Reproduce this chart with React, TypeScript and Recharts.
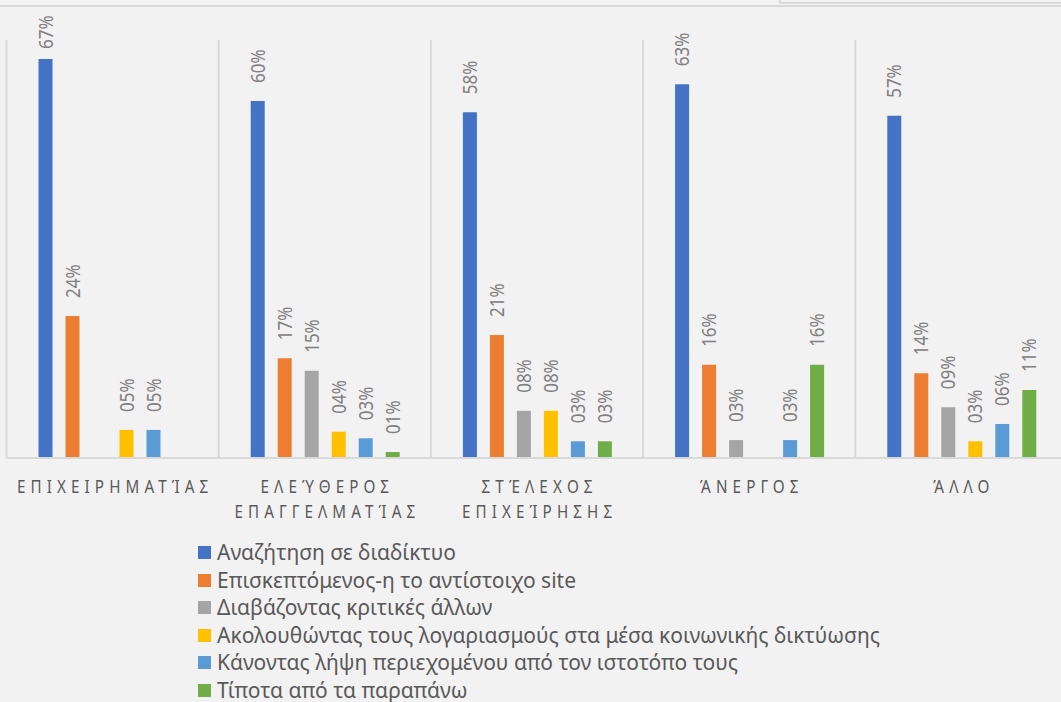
import { BarChart, Bar, XAxis, YAxis, CartesianGrid, LabelList } from "recharts";

const categories = [
  "ΕΠΙΧΕΙΡΗΜΑΤΊΑΣ",
  "ΕΛΕΎΘΕΡΟΣ ΕΠΑΓΓΕΛΜΑΤΊΑΣ",
  "ΣΤΈΛΕΧΟΣ ΕΠΙΧΕΊΡΗΣΗΣ",
  "ΆΝΕΡΓΟΣ",
  "ΆΛΛΟ",
];

const seriesNames = [
  "Αναζήτηση σε διαδίκτυο",
  "Επισκεπτόμενος-η το αντίστοιχο site",
  "Διαβάζοντας κριτικές άλλων",
  "Ακολουθώντας τους λογαριασμούς στα μέσα κοινωνικής δικτύωσης",
  "Κάνοντας λήψη περιεχομένου από τον ιστοτόπο τους",
  "Τίποτα από τα παραπάνω",
];

// percentages (labels show them rounded)
const search = [66.8, 59.8, 57.9, 62.6, 57.3];
const visiting = [23.8, 16.7, 20.6, 15.6, 14.2];
const reviews = [null, 14.6, 7.9, 3.0, 8.5];
const social = [4.7, 4.4, 7.9, null, 2.8];
const download = [4.7, 3.3, 2.8, 3.0, 5.7];
const nothing = [null, 1.0, 2.8, 15.6, 11.4];

const colors = ["#4472C4", "#ED7D31", "#A5A5A5", "#FFC000", "#5B9BD5", "#70AD47"];
const seriesValues = [search, visiting, reviews, social, download, nothing];

const data = categories.map((name, i) => {
  const row: Record<string, any> = { name };
  seriesValues.forEach((vals, s) => {
    row["s" + s] = vals[i];
  });
  return row;
});

const FONT = "'Noto Sans', 'Open Sans', sans-serif";

const fmt = (v: number) => {
  const r = Math.round(v);
  return (r < 10 ? "0" + r : String(r)) + "%";
};

// rotated value label above each bar, squeezed a bit like the original
const ValueLabel = (props: any) => {
  const { x, y, width, value } = props;
  if (value === null || value === undefined) return null;
  const cx = Number(x) + Number(width) / 2;
  const bottom = Math.max(Number(y) - 18, 49);
  return (
    <g transform={`translate(${cx + 7}, ${bottom}) rotate(-90) scale(0.85, 1)`}>
      <text x={0} y={0} fill="#808080" fontSize={20} fontFamily={FONT} textAnchor="start">
        {fmt(value)}
      </text>
    </g>
  );
};

const CategoryTick = (props: any) => {
  const { x, y, payload } = props;
  const lines = String(payload.value).split(" ");
  const spacing = 6.4;
  return (
    <g transform={`translate(${x}, ${y}) scale(0.8, 1)`}>
      {lines.map((line, i) => (
        <text
          key={i}
          x={spacing / 2}
          y={35 + i * 25}
          fill="#595959"
          fontSize={19}
          fontFamily={FONT}
          textAnchor="middle"
          style={{ letterSpacing: spacing }}
        >
          {line}
        </text>
      ))}
    </g>
  );
};

const boundaries = ({ offset }: any) =>
  categories.map((_, i) => offset.left + (i * offset.width) / categories.length).concat(offset.left + offset.width);

export default function App() {
  return (
    <div
      style={{
        position: "absolute",
        left: 0,
        top: 0,
        width: 1061,
        height: 702,
        overflow: "hidden",
        background: "#f2f2f2",
        fontFamily: FONT,
      }}
    >
      <div style={{ position: "absolute", left: 0, top: 5, width: 1061, height: 2, background: "#d9d9d9" }} />
      <div
        style={{
          position: "absolute",
          left: 779,
          top: -10,
          width: 400,
          height: 10,
          border: "2px solid #d9d9d9",
        }}
      />
      <BarChart
        width={1070}
        height={702}
        data={data}
        margin={{ top: 40, right: 2.5, left: 6.5, bottom: 184 }}
        barSize={14}
        barGap={13}
      >
        <CartesianGrid
          horizontal={false}
          stroke="#d9d9d9"
          strokeWidth={2}
          verticalCoordinatesGenerator={boundaries}
        />
        <XAxis
          dataKey="name"
          height={60}
          tickLine={false}
          tickSize={0}
          tickMargin={0}
          axisLine={{ stroke: "#d9d9d9", strokeWidth: 2 }}
          tick={<CategoryTick />}
          interval={0}
        />
        <YAxis hide domain={[0, 70]} />
        {seriesNames.map((name, s) => (
          <Bar key={s} dataKey={"s" + s} name={name} fill={colors[s]} isAnimationActive={false}>
            <LabelList dataKey={"s" + s} content={<ValueLabel />} />
          </Bar>
        ))}
      </BarChart>
      <div style={{ position: "absolute", left: 198, top: 539 }}>
        {seriesNames.map((name, s) => (
          <div key={s} style={{ display: "flex", alignItems: "center", height: 27.5 }}>
            <span style={{ width: 13, height: 13, background: colors[s], display: "inline-block", marginRight: 6 }} />
            <span style={{ fontSize: 21, color: "#595959", whiteSpace: "nowrap", lineHeight: "27.5px" }}>{name}</span>
          </div>
        ))}
      </div>
    </div>
  );
}
